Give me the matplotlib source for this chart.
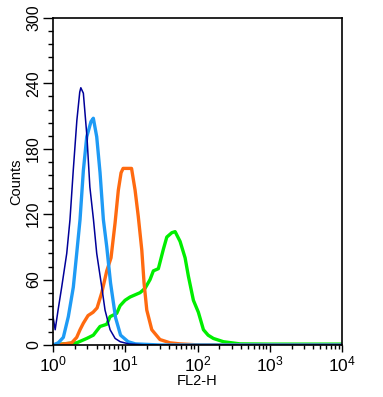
import matplotlib.pyplot as plt
import numpy as np
from matplotlib.ticker import MultipleLocator, LogLocator, NullFormatter

plt.rcParams['font.family'] = ['Liberation Sans', 'DejaVu Sans']
plt.rcParams['mathtext.default'] = 'regular'

navy_x = [0.0, 0.03, 0.07, 0.12, 0.19, 0.235, 0.28, 0.33, 0.37, 0.385, 0.42, 0.47,
          0.51, 0.56, 0.605, 0.675, 0.72, 0.79, 0.86, 0.93, 1.05, 1.3, 4.0]
navy_y = [26, 14, 32, 53, 84, 115, 160, 206, 232, 236, 231, 191,
          145, 115, 84, 53, 32, 14, 6, 3, 1, 0, 0]

blue_x = [0.0, 0.073, 0.143, 0.212, 0.281, 0.328, 0.374, 0.42, 0.467, 0.526, 0.558, 0.605,
          0.651, 0.697, 0.744, 0.796, 0.866, 0.935, 1.04, 1.14, 1.48, 4.0]
blue_y = [0, 2, 7, 26, 53, 84, 115, 160, 191, 205, 208, 191,
          158, 115, 90, 57, 25, 9, 3, 1, 0, 0]

orange_x = [0.0, 0.097, 0.259, 0.328, 0.374, 0.42, 0.485, 0.554, 0.61, 0.675, 0.744, 0.803,
            0.859, 0.904, 0.942, 0.97, 1.087, 1.136, 1.18, 1.229, 1.26, 1.298, 1.367,
            1.48, 1.62, 1.76, 2.04, 4.0]
orange_y = [0, 0.5, 2, 7, 14, 20, 27, 30, 34, 48, 68, 80,
            112, 142, 158, 162, 162, 142, 118, 87, 57, 32, 14,
            5, 2, 1, 0, 0]

green_x = [0.0, 0.14, 0.328, 0.467, 0.558, 0.651, 0.744, 0.79, 0.882, 0.928, 0.997, 1.066,
           1.205, 1.274, 1.343, 1.389, 1.458, 1.528, 1.575, 1.644, 1.69, 1.759, 1.828,
           1.874, 1.943, 2.012, 2.082, 2.147, 2.22, 2.359, 2.59, 3.0, 3.5, 4.0]
green_y = [0, 1, 2, 6, 9, 17, 19, 26, 29, 36, 41, 44,
           48, 52, 60, 68, 70, 88, 99, 103, 104, 95, 80,
           63, 41, 30, 14, 9, 6, 3, 1, 0.8, 0.8, 0.8]

fig = plt.figure(figsize=(3.83, 3.97), dpi=100)
ax = fig.add_axes([0.1384, 0.131, 0.893 - 0.1384, 0.9547 - 0.131])

ax.plot(10 ** np.array(green_x), green_y, color='#00ee00', lw=2.4)
ax.plot(10 ** np.array(orange_x), orange_y, color='#ff6a10', lw=2.4)
ax.plot(10 ** np.array(blue_x), blue_y, color='#1e9bf5', lw=2.4)
ax.plot(10 ** np.array(navy_x), navy_y, color='#000099', lw=1.1)

ax.set_xscale('log')
ax.set_xlim(1, 1e4)
ax.set_ylim(0, 300)

ax.yaxis.set_major_locator(MultipleLocator(60))
ax.yaxis.set_minor_locator(MultipleLocator(12))
ax.xaxis.set_major_locator(LogLocator(base=10, numticks=10))
ax.xaxis.set_minor_locator(LogLocator(base=10, subs=np.arange(2, 10), numticks=10))
ax.xaxis.set_minor_formatter(NullFormatter())

ax.tick_params(axis='y', which='major', length=7, width=1, pad=1.5, labelsize=11.5)
ax.tick_params(axis='y', which='minor', length=3.5, width=1)
ax.tick_params(axis='x', which='major', length=5, width=1, pad=1.5, labelsize=12.5)
ax.tick_params(axis='x', which='minor', length=3, width=1)
for lab in ax.get_yticklabels():
    lab.set_rotation(90)
    lab.set_va('center')

for sp in ax.spines.values():
    sp.set_linewidth(1.2)

ax.set_xlabel('FL2-H', fontsize=10.5, labelpad=0)
ax.set_ylabel('Counts', fontsize=10.5, labelpad=2)

fig.savefig('out.png', dpi=100)
